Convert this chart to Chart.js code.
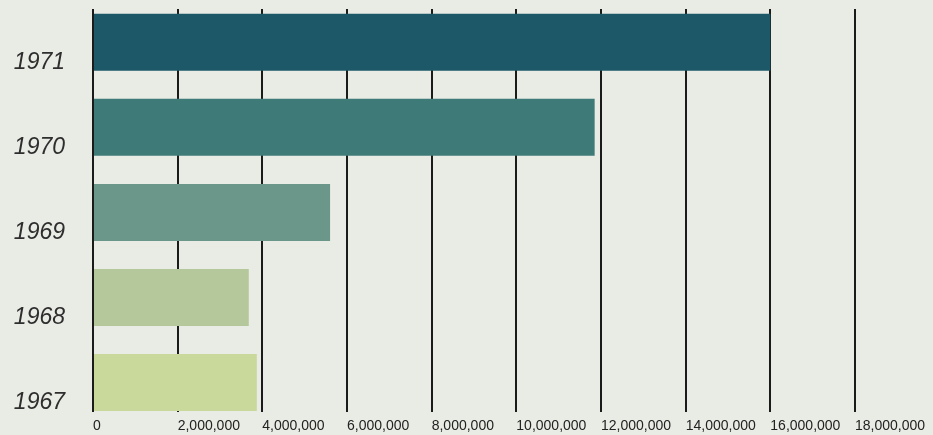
<!DOCTYPE html>
<html>
<head>
<meta charset="utf-8">
<script src="https://cdn.jsdelivr.net/npm/chart.js@4/dist/chart.umd.min.js"></script>
<style>
  html, body { margin: 0; padding: 0; background: #e9ebe5; }
  #wrap { width: 933px; height: 435px; }
</style>
</head>
<body>
<div id="wrap"><canvas id="myChart" width="933" height="435"></canvas></div>
<script>
// values
const years = ['1971', '1970', '1969', '1968', '1967']
const visitors = [16000000, 11850000, 5600000, 3680000, 3870000]
const xTicks = [0, 2000000, 4000000, 6000000, 8000000, 10000000, 12000000, 14000000, 16000000, 18000000]

const barColors = ['#1c5867', '#3e7b78', '#6b968a', '#b5c89b', '#c9d99b']

// rows go on a linear index axis so the grid can stop short of the labels
let rows = visitors.map((v, i) => ({ x: v, y: i }))
const yMin = -0.3915, yMax = 4.347

var ctx = document.getElementById('myChart').getContext('2d');
var chart = new Chart(ctx, {
  type: 'bar',
  data: {
    datasets: [{
      data: rows,
      backgroundColor: barColors,
      borderWidth: 0,
      categoryPercentage: 1,
      barPercentage: 0.67
    }]
  },
  options: {
    indexAxis: 'y',
    responsive: false,
    animation: false,
    layout: { padding: { top: 9, right: 78, bottom: 0, left: 0 } },
    plugins: { legend: { display: false }, tooltip: { enabled: false } },
    scales: {
      x: {
        type: 'linear',
        min: 0,
        max: 18000000,
        z: 1,
        afterBuildTicks: (s) => { s.ticks = xTicks.map(v => ({ value: v })) },
        afterFit: (s) => { s.height = 23 },
        border: { display: false },
        grid: { color: '#1b1b1b', lineWidth: 2, drawTicks: false },
        ticks: {
          align: 'start',
          padding: 6,
          color: '#222222',
          font: { family: 'Liberation Sans', size: 14 },
          callback: (v) => v.toLocaleString('en-US')
        }
      },
      y: {
        type: 'linear',
        reverse: true,
        offset: false,
        bounds: 'data',
        min: yMin,
        max: yMax,
        afterBuildTicks: (s) => {
          s.ticks = years.map((_, i) => ({ value: i }))
          s.min = yMin
          s.max = yMax
        },
        afterFit: (s) => { s.width = 93; s.paddingTop = 0; s.paddingBottom = 0 },
        border: { display: false },
        grid: { display: false, drawTicks: false, offset: false },
        ticks: {
          padding: 28,
          labelOffset: 20,
          color: '#2e2e2e',
          font: { family: 'Liberation Sans', size: 23, style: 'italic' },
          callback: (v) => years[v]
        }
      }
    }
  }
});
</script>
</body>
</html>
